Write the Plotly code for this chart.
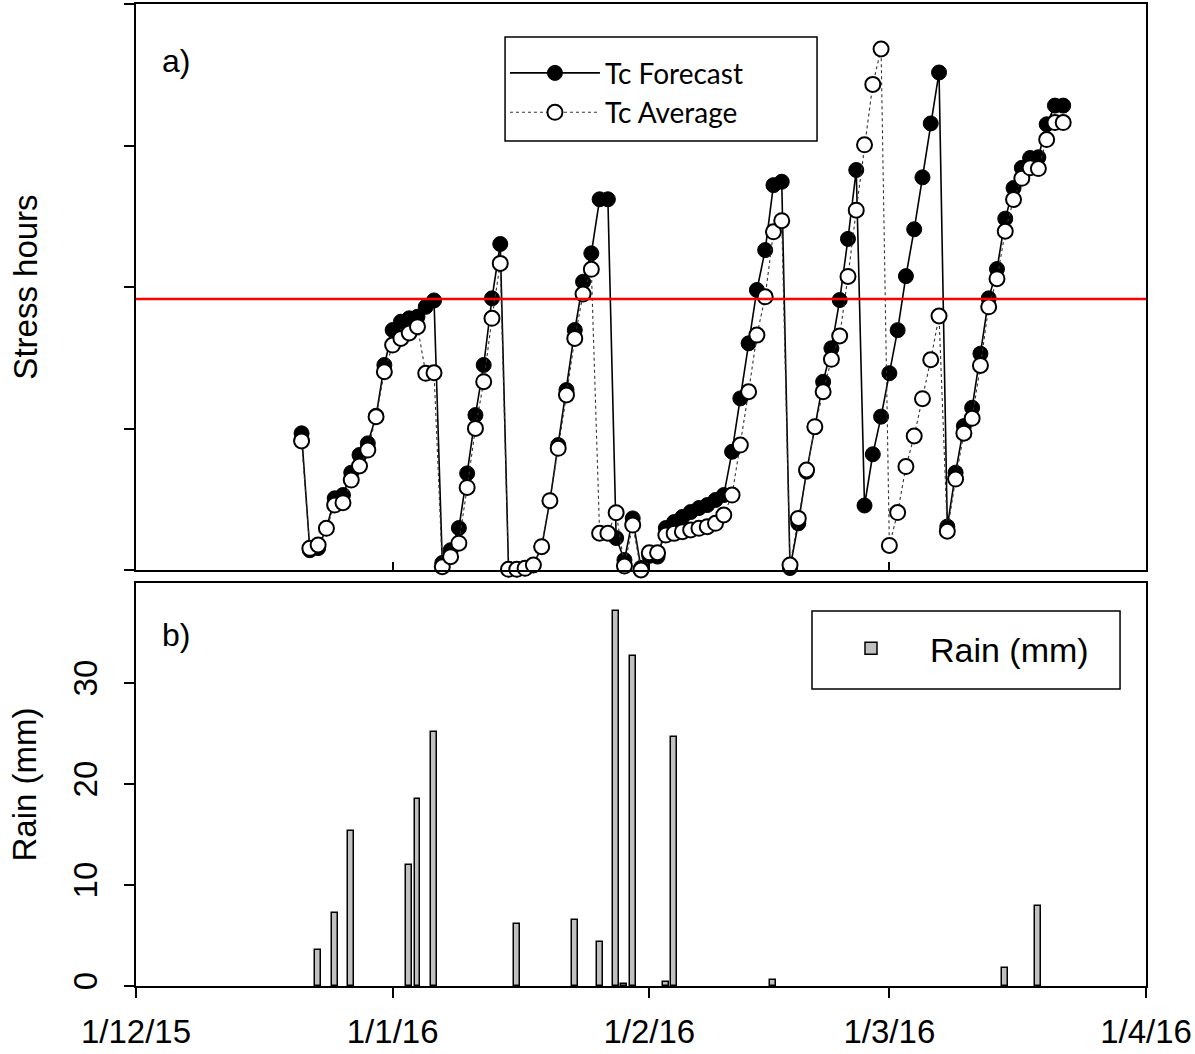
import plotly.graph_objects as go
import pandas as pd

# ---------------- data ----------------
START_DATE = "2015-12-21"
tc_forecast = [96.6, 14, 15.5, 29.5, 50.7, 53, 68.8, 81.3, 89.5, 109, 144.9, 169.6, 175.5, 177.9, 179,
               186, 190.5, 5, 14, 29.7, 68.3, 109.5, 144.9, 192, 230.4, 0.5, 0.5, 1.2, 3.5, 16.5,
               49, 88.3, 127.2, 169.6, 203.7, 223.8, 262, 262, 22.6, 7.1, 36.5, 1.5, 10, 9.5, 29.7,
               33.9, 37.5, 41, 43.8, 45.9, 49.5, 53, 83.6, 121.3, 160.2, 197.9, 226.1, 272, 274.4, 1.4,
               33, 69.5, 101, 133, 156.7, 190.8, 234, 282.7, 45.6, 81.8, 108.4, 139.1, 169.5, 207.7, 240.8,
               277.5, 315.6, 351.6, 30.7, 68.8, 101.7, 114.7, 152.9, 192, 212.7, 248.3, 270, 284.2, 291.2,
               291.7, 315, 328.2, 328.2]
tc_average = [91.2, 15.3, 17.7, 29.5, 45.9, 47.6, 63.6, 73.5, 84.8, 108.3, 140.1, 159, 163.7, 167.5, 172,
              139, 139.4, 2.3, 9.4, 19, 58.4, 100.1, 133.1, 177.9, 216.7, 0.5, 0.5, 1.2, 3.5, 16.5,
              49, 86, 123.7, 163.7, 195, 212.5, 26, 26, 40.5, 2.8, 31.8, 0, 12.2, 12.2, 24.7,
              25.9, 27.1, 28.3, 29.5, 30.6, 33, 38.9, 53, 88.3, 126, 166, 193.1, 239, 246.9, 3.5,
              36.5, 70.7, 101.3, 126, 148.9, 165.4, 207.5, 254.3, 300.5, 343.2, 368.2, 17.4, 40.6, 73.1, 94.7,
              121.1, 148.6, 179.5, 27.4, 64.3, 96.7, 107.2, 144.6, 186, 205.9, 239.4, 261.8, 276.8, 284.2,
              283.7, 304.2, 316.2, 316.2]
threshold = 191.5

rain_dates = ["2015-12-23", "2015-12-25", "2015-12-27", "2016-01-03", "2016-01-04", "2016-01-06",
              "2016-01-16", "2016-01-23", "2016-01-26", "2016-01-28", "2016-01-29", "2016-01-30",
              "2016-02-03", "2016-02-04", "2016-02-16", "2016-03-15", "2016-03-19"]
rain_mm = [3.6, 7.2, 15.3, 12.0, 18.5, 25.1, 6.15, 6.55, 4.4, 37.1, 0.2, 32.7, 0.4, 24.7, 0.6, 1.8, 7.9]

tick_dates = ["2015-12-01", "2016-01-01", "2016-02-01", "2016-03-01", "2016-04-01"]
tick_labels = ["1/12/15", "1/1/16", "1/2/16", "1/3/16", "1/4/16"]
stress_ticks = [0, 100, 200, 300, 400]
rain_ticks = [0, 10, 20, 30]

dates = pd.date_range(START_DATE, periods=len(tc_forecast))

ARIAL = "Liberation Sans, Arial, sans-serif"

fig = go.Figure()

fig.add_trace(go.Scatter(
    x=dates, y=tc_forecast, name="Tc Forecast", mode="lines+markers",
    line=dict(color="black", width=1.6),
    marker=dict(size=15, color="black", line=dict(color="black", width=1)),
    cliponaxis=False, xaxis="x", yaxis="y", legend="legend"))
fig.add_trace(go.Scatter(
    x=dates, y=tc_average, name="Tc Average", mode="lines+markers",
    line=dict(color="#333333", width=1.1, dash="dot"),
    marker=dict(size=15, color="white", line=dict(color="black", width=2)),
    cliponaxis=False, xaxis="x", yaxis="y", legend="legend"))

fig.add_trace(go.Bar(
    x=pd.to_datetime(rain_dates), y=rain_mm, name="Rain (mm)",
    width=0.72 * 86400000,
    marker=dict(color="#c0c0c0", line=dict(color="black", width=1.5)),
    xaxis="x2", yaxis="y2", legend="legend2"))

fig.add_shape(type="line", xref="x domain", yref="y", x0=0, x1=1, y0=threshold, y1=threshold,
              line=dict(color="red", width=2.5), layer="above")

# legend frames (decoration around the library legends)
fig.add_shape(type="rect", xref="x domain", yref="y domain", x0=0.3654, x1=0.6743,
              y0=1 - (141 - 4) / 566, y1=1 - (37 - 4) / 566,
              line=dict(color="black", width=1.5), fillcolor="rgba(0,0,0,0)", layer="above")
fig.add_shape(type="rect", xref="x2 domain", yref="y2 domain", x0=0.6693, x1=0.9743,
              y0=(986 - 689) / 403, y1=(986 - 611) / 403,
              line=dict(color="black", width=1.5), fillcolor="rgba(0,0,0,0)", layer="above")

x_range = [tick_dates[0], tick_dates[-1]]
axis_common = dict(showline=True, linecolor="black", linewidth=2, mirror=True, automargin=False,
                   showgrid=False, zeroline=False, tickwidth=1.5, tickcolor="black")

fig.update_layout(
    width=1195, height=1054,
    margin=dict(l=136, r=49, t=4, b=68, autoexpand=False),
    paper_bgcolor="white", plot_bgcolor="white",
    font=dict(family=ARIAL, color="black"),
    xaxis=dict(domain=[0, 1], range=x_range, type="date", anchor="y",
               tickvals=tick_dates, ticktext=tick_labels, ticks="inside",
               showticklabels=False, ticklen=8, **axis_common),
    yaxis=dict(domain=[0.4236, 1], range=[0, 400], anchor="x",
               tickvals=stress_ticks, ticks="outside", showticklabels=False, ticklen=10,
               title=dict(text="Stress hours", font=dict(size=33, family=ARIAL), standoff=76),
               **axis_common),
    xaxis2=dict(domain=[0, 1], range=x_range, type="date", anchor="y2",
                tickvals=tick_dates, ticktext=tick_labels, ticks="outside", ticklen=10,
                tickfont=dict(size=33, family=ARIAL), ticklabelstandoff=5,
                **axis_common),
    yaxis2=dict(domain=[0, 0.4104], range=[0, 39.9], anchor="x2",
                tickvals=rain_ticks, ticks="outside", tickangle=-90, ticklen=10,
                tickfont=dict(size=33, family=ARIAL), ticklabelstandoff=14,
                title=dict(text="Rain (mm)", font=dict(size=33, family=ARIAL), standoff=20),
                **axis_common),
    legend=dict(x=0.3653, y=0.955, xanchor="left", yanchor="top",
                bgcolor="rgba(0,0,0,0)", borderwidth=0,
                font=dict(family="Lato, Carlito, sans-serif", size=28),
                itemsizing="trace", itemwidth=90, tracegroupgap=0),
    legend2=dict(x=0.6693, y=0.373, xanchor="left", yanchor="top",
                 bgcolor="rgba(0,0,0,0)", borderwidth=0,
                 font=dict(family=ARIAL, size=34), itemwidth=108),
    bargap=0,
)

fig.add_annotation(text="a)", xref="x domain", yref="y domain", x=0.024, y=0.899,
                   xanchor="left", yanchor="middle", showarrow=False,
                   font=dict(size=32, family=ARIAL))
fig.add_annotation(text="b)", xref="x2 domain", yref="y2 domain", x=0.024, y=0.871,
                   xanchor="left", yanchor="middle", showarrow=False,
                   font=dict(size=32, family=ARIAL))

fig.write_html("out.html")
